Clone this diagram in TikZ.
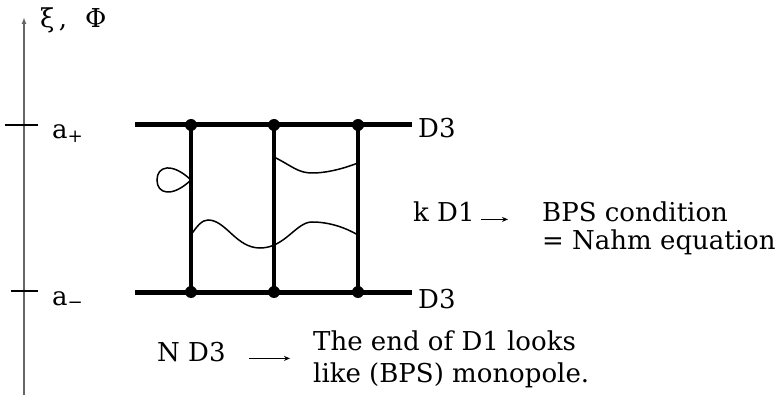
\documentclass[tikz,border=0pt]{standalone}
\usepackage{fontspec}
\setmainfont{DejaVu Serif}
\usepackage{tikz}
\usetikzlibrary{arrows.meta}

\begin{document}
\begin{tikzpicture}[x=1pt,y=-1pt,
  dot/.style={circle,fill=black,inner sep=0pt,minimum size=12pt},
  brane/.style={line width=5pt},
  dstring/.style={line width=3.5pt},
  lbl/.style={font=\fontsize{26}{30}\selectfont,inner sep=0pt,anchor=base west}]
\useasboundingbox (0,0) rectangle (781,403);
\coordinate (ax0) at (24,395);
\coordinate (ax1) at (24,17);
\draw[line width=2pt,gray!80!black,-{Latex[length=7pt,width=5pt]}] (ax0) -- (ax1);
\node[lbl] (xi) at (40,28) {ξ\,,\hspace{18pt}Φ};
\draw[line width=1.3pt] (5,125) -- (38,125);
\draw[line width=1.3pt] (11,291) -- (38,291);
\node[lbl] (ap) at (52,139) {a\textsubscript{+}};
\node[lbl] (am) at (52,305) {a\textsubscript{−}};
\coordinate (tl) at (135,125);
\coordinate (tr) at (412,125);
\coordinate (bl) at (135,292);
\coordinate (br) at (412,292);
\node[dot] (t1) at (191,125) {};
\node[dot] (t2) at (274,125) {};
\node[dot] (t3) at (358,125) {};
\node[dot] (b1) at (191,292) {};
\node[dot] (b2) at (274,292) {};
\node[dot] (b3) at (358,292) {};
\draw[brane] (tl) -- (tr);
\draw[brane] (bl) -- (br);
\draw[dstring] (t1.center) -- (b1.center);
\draw[dstring] (t2.center) -- (b2.center);
\draw[dstring] (t3.center) -- (b3.center);
\node[lbl] (d3t) at (418,138) {D3};
\node[lbl] (d3b) at (418,308) {D3};
\draw[line width=1.5pt] (191,180) .. controls (172,162) and (157,166) .. (157,180)
  .. controls (157,194) and (172,198) .. (191,180);
\draw[line width=1.5pt] (274,157) .. controls (292,166) and (298,173) .. (312,173)
  .. controls (328,173) and (345,168) .. (358,163);
\draw[line width=1.5pt] (191,235) .. controls (197,226) and (202,220) .. (208,220)
  .. controls (226,220) and (236,248) .. (260,248)
  .. controls (285,248) and (296,222) .. (312,222)
  .. controls (330,222) and (346,228) .. (358,235);
\node[lbl] (kd1) at (413,222) {k D1};
\node[lbl] (bps1) at (542,222) {BPS condition};
\node[lbl] (bps2) at (542,250) {= Nahm equation};
\draw[line width=1.2pt,-{Stealth[length=6pt,width=5pt]},shorten <=6pt,shorten >=34pt]
  (kd1.mid east) -- (kd1.mid east -| bps1.west);
\node[lbl] (nd3) at (157,361) {N D3};
\node[lbl] (end1) at (313,350) {The end of D1 looks};
\node[lbl] (end2) at (313,382) {like (BPS) monopole.};
\draw[line width=1.2pt,-{Stealth[length=6pt,width=5pt]},shorten <=23pt,shorten >=23pt]
  (nd3.mid east) -- (nd3.mid east -| end1.west);
\end{tikzpicture}
\end{document}
